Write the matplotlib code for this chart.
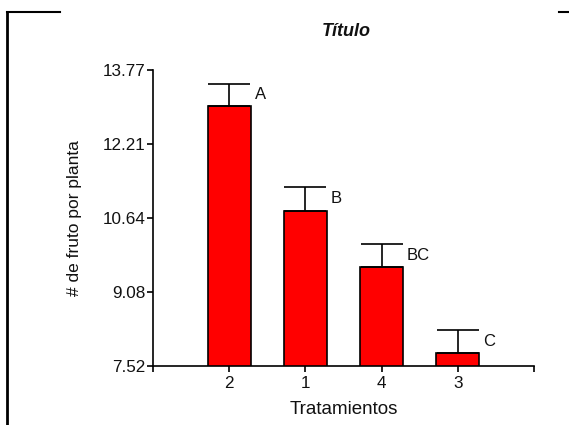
import matplotlib
matplotlib.use("Agg")
import matplotlib.pyplot as plt
from matplotlib.lines import Line2D
import numpy as np

plt.rcParams['font.family'] = ['Liberation Sans', 'DejaVu Sans']

categories = ['2', '1', '4', '3']
means = [13.00, 10.79, 9.60, 7.79]
errors = [0.48, 0.50, 0.49, 0.48]
letters = ['A', 'B', 'BC', 'C']
ytick_labels = ['7.52', '9.08', '10.64', '12.21', '13.77']

W, H = 569, 425
fig = plt.figure(figsize=(W / 100, H / 100), dpi=100)
ax = fig.add_axes([153 / W, 1 - 366 / H, (534 - 153) / W, (366 - 70) / H])

x = np.arange(len(categories))
bw = 0.56
ax.bar(x, means, width=bw, color='#FF0000', edgecolor='black', linewidth=1.2, zorder=2)
ax.errorbar(x, means, yerr=[np.zeros(len(means)), errors], fmt='none',
            ecolor='black', elinewidth=1.2, capsize=15, capthick=1.2, zorder=3)

for xi, m, e, lab in zip(x, means, errors, letters):
    ax.annotate(lab, (xi + bw / 2, m + e), xytext=(3, -8), textcoords='offset points',
                ha='left', va='center', fontsize=12, color='#111111')

yt = [float(v) for v in ytick_labels]
ax.set_ylim(yt[0], yt[-1])
ax.set_yticks(yt)
ax.set_yticklabels(ytick_labels)
ax.set_xlim(-1, len(categories))
ax.set_xticks(x)
ax.set_xticklabels(categories)
ax.set_xticks([-1, len(categories)], minor=True)

for s in ['top', 'right']:
    ax.spines[s].set_visible(False)
for s in ['left', 'bottom']:
    ax.spines[s].set_linewidth(1.2)
    ax.spines[s].set_color('black')

ax.tick_params(axis='y', which='major', direction='out', length=4, width=1.2, pad=1.5,
               labelsize=12.3, labelcolor='#111111')
ax.tick_params(axis='x', which='both', direction='out', length=4, width=1.2, pad=3.5,
               labelsize=12.3, labelcolor='#111111')

ax.set_xlabel('Tratamientos', fontsize=13.5, color='#111111', va='center')
ax.xaxis.set_label_coords(0.5, (366 - 410) / 296)
ax.set_ylabel('# de fruto por planta', fontsize=12.5, color='#111111', va='center')
ax.yaxis.set_label_coords((75 - 153) / 381, 0.5)

fig.text(346 / W, 1 - 32 / H, 'Título', fontsize=13, fontweight='bold', fontstyle='italic',
         ha='center', va='center', color='#111111')

# page frame fragments
fig.add_artist(Line2D([7 / W, 7 / W], [0, 1 - 12 / H], color='black', linewidth=2, transform=fig.transFigure))
fig.add_artist(Line2D([7 / W, 60 / W], [1 - 12 / H, 1 - 12 / H], color='black', linewidth=1.5, transform=fig.transFigure))
fig.add_artist(Line2D([559 / W, 1], [1 - 12 / H, 1 - 12 / H], color='black', linewidth=1.5, transform=fig.transFigure))

fig.savefig('out.png', dpi=100)
